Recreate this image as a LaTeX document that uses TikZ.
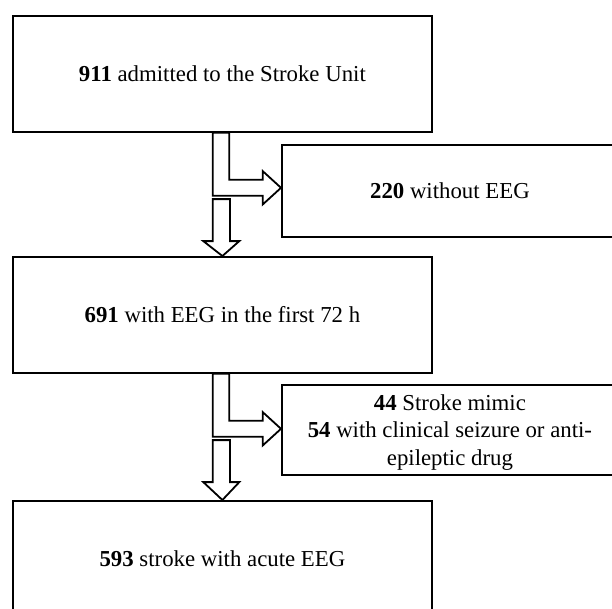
\documentclass[tikz,border=0pt]{standalone}
\usepackage{fontspec}
\setmainfont{Liberation Serif}
\usetikzlibrary{calc}
\begin{document}
\begin{tikzpicture}[x=1pt,y=-1pt,
  box/.style={draw, line width=1.8pt, anchor=north west, inner sep=0pt, align=center,
    font=\fontsize{22.8}{27.7}\selectfont},
  blockarrow/.style={draw, line width=1.8pt, line join=miter, fill=white}]
\useasboundingbox (0,0) rectangle (612,608);
\clip (0,0) rectangle (612,608);
\node[box, minimum width=419pt, minimum height=116pt] (b1) at (12,15) {\textbf{911} admitted to the Stroke Unit};
\node[box, minimum width=336pt, minimum height=92pt] (b2) at (281,144) {\textbf{220} without EEG};
\node[box, minimum width=419pt, minimum height=116pt] (b3) at (12,256) {\textbf{691} with EEG in the first 72 h};
\node[box, minimum width=336pt, minimum height=90pt] (b4) at (281,384) {\rule{0pt}{20.6pt}\textbf{44} Stroke mimic\\\textbf{54} with clinical seizure or anti-\\epileptic drug};
\node[box, minimum width=419pt, minimum height=116pt] (b5) at (12,500) {\textbf{593} stroke with acute EEG};
\foreach \u/\s/\l in {b1/b2/b3, b3/b4/b5}{
  \coordinate (u) at (\u.south west);
  \coordinate (t) at ($(u)+(0,55)$);
  \draw[blockarrow] ($(u)+(200.7,0)$) -- ($(u)+(217.3,0)$) -- ($(u)+(217.3,47)$)
    -- ($(u)+(250.7,47)$) -- ($(u)+(250.7,38.3)$) -- (t -| \s.west)
    -- ($(u)+(250.7,71.7)$) -- ($(u)+(250.7,63)$) -- ($(u)+(200.7,63)$) -- cycle;
  \draw[blockarrow] ($(u)+(200.7,66.3)$) -- ($(u)+(218,66.3)$) -- ($(u)+(218,108.3)$)
    -- ($(u)+(227.3,108.3)$) -- (\l.north) -- ($(u)+(191.3,108.3)$)
    -- ($(u)+(200.7,108.3)$) -- cycle;
}
\end{tikzpicture}
\end{document}
